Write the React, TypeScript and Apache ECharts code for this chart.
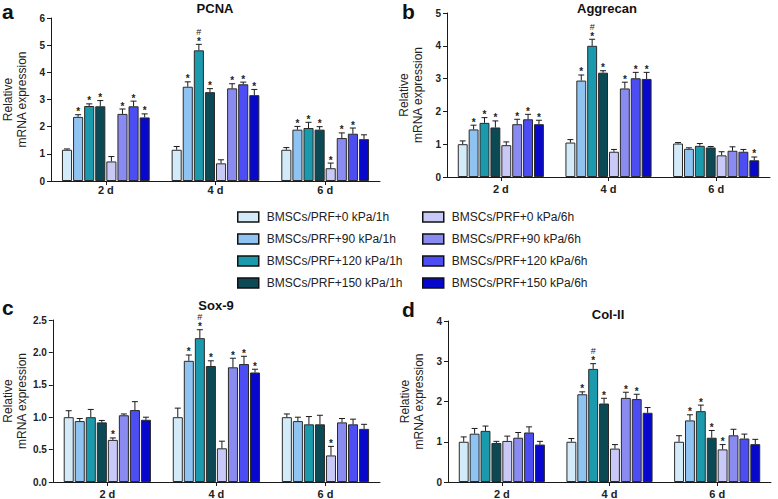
import React, { useEffect, useRef } from 'react';
import * as echarts from 'echarts';

const FONT = '"Liberation Sans", Arial, Helvetica, sans-serif';

const categories = ['2 d', '4 d', '6 d'];
const seriesNames = [
  'BMSCs/PRF+0 kPa/1h',
  'BMSCs/PRF+90 kPa/1h',
  'BMSCs/PRF+120 kPa/1h',
  'BMSCs/PRF+150 kPa/1h',
  'BMSCs/PRF+0 kPa/6h',
  'BMSCs/PRF+90 kPa/6h',
  'BMSCs/PRF+120 kPa/6h',
  'BMSCs/PRF+150 kPa/6h',
];
const seriesColors = ['#d3eaf8', '#8fc3f2', '#1b9aae', '#0b4a55', '#c9c9f7', '#8a8bf1', '#4d4df4', '#0808cc'];

// PCNA: rows = days, columns = groups
const pcnaMean = [
  [1.15, 2.36, 2.76, 2.75, 0.72, 2.47, 2.75, 2.34],
  [1.15, 3.47, 4.81, 3.27, 0.65, 3.41, 3.56, 3.16],
  [1.15, 1.89, 1.95, 1.89, 0.47, 1.58, 1.74, 1.54],
];
const pcnaErr = [
  [0.03, 0.08, 0.08, 0.21, 0.18, 0.18, 0.19, 0.13],
  [0.12, 0.18, 0.22, 0.13, 0.13, 0.17, 0.08, 0.21],
  [0.08, 0.12, 0.21, 0.11, 0.19, 0.19, 0.21, 0.16],
];
const pcnaMarks = [
  ['', '*', '*', '*', '', '*', '*', '*'],
  ['', '*', '*#', '*', '', '*', '*', '*'],
  ['', '*', '*', '*', '*', '*', '*', ''],
];

const aggrecanMean = [
  [1.0, 1.45, 1.65, 1.51, 0.97, 1.61, 1.76, 1.61],
  [1.05, 2.94, 4.0, 3.18, 0.77, 2.7, 3.01, 2.99],
  [1.02, 0.86, 0.95, 0.9, 0.66, 0.8, 0.77, 0.51],
];
const aggrecanErr = [
  [0.1, 0.13, 0.16, 0.2, 0.1, 0.15, 0.15, 0.12],
  [0.09, 0.17, 0.2, 0.06, 0.07, 0.19, 0.18, 0.2],
  [0.03, 0.03, 0.07, 0.03, 0.11, 0.12, 0.07, 0.1],
];
const aggrecanMarks = [
  ['', '*', '*', '*', '', '*', '*', '*'],
  ['', '*', '*#', '*', '', '*', '*', '*'],
  ['', '', '', '', '', '', '', '*'],
];

const sox9Mean = [
  [1.0, 0.94, 1.0, 0.92, 0.65, 1.03, 1.11, 0.96],
  [1.0, 1.87, 2.22, 1.79, 0.52, 1.77, 1.82, 1.69],
  [1.0, 0.94, 0.89, 0.89, 0.41, 0.92, 0.89, 0.82],
];
const sox9Err = [
  [0.1, 0.04, 0.12, 0.03, 0.03, 0.02, 0.13, 0.04],
  [0.14, 0.09, 0.13, 0.08, 0.11, 0.14, 0.12, 0.05],
  [0.05, 0.06, 0.12, 0.14, 0.14, 0.06, 0.08, 0.07],
];
const sox9Marks = [
  ['', '', '', '', '*', '', '', ''],
  ['', '*', '*#', '*', '', '*', '*', '*'],
  ['', '', '', '', '*', '', '', ''],
];

const col2Mean = [
  [1.0, 1.2, 1.27, 0.97, 1.02, 1.1, 1.23, 0.93],
  [1.0, 2.18, 2.81, 1.95, 0.83, 2.09, 2.06, 1.72],
  [1.0, 1.53, 1.76, 1.1, 0.81, 1.16, 1.08, 0.94],
];
const col2Err = [
  [0.12, 0.13, 0.12, 0.04, 0.12, 0.13, 0.14, 0.08],
  [0.08, 0.06, 0.13, 0.13, 0.1, 0.14, 0.12, 0.13],
  [0.15, 0.14, 0.15, 0.18, 0.12, 0.15, 0.11, 0.12],
];
const col2Marks = [
  ['', '', '', '', '', '', '', ''],
  ['', '*', '*#', '*', '', '*', '*', ''],
  ['', '*', '*', '*', '*', '', '', ''],
];

const yAxisName = 'Relative\nmRNA expression';

const panels = [
  { letter: 'a', title: 'PCNA', mean: pcnaMean, err: pcnaErr, marks: pcnaMarks, yMax: 6, yInterval: 1, decimals: 0,
    grid: { left: 50, top: 18, width: 330, height: 163 }, titlePos: [215, 8], letterPos: [2, 11.5], labelMargin: 3 },
  { letter: 'b', title: 'Aggrecan', mean: aggrecanMean, err: aggrecanErr, marks: aggrecanMarks, yMax: 5, yInterval: 1, decimals: 0,
    grid: { left: 447, top: 13, width: 323, height: 164 }, titlePos: [607, 8], letterPos: [402, 11.5], labelMargin: 6 },
  { letter: 'c', title: 'Sox-9', mean: sox9Mean, err: sox9Err, marks: sox9Marks, yMax: 2.5, yInterval: 0.5, decimals: 1,
    grid: { left: 50, top: 320, width: 330, height: 164 }, titlePos: [216, 305], letterPos: [2, 307], labelMargin: 6 },
  { letter: 'd', title: 'Col-II', mean: col2Mean, err: col2Err, marks: col2Marks, yMax: 4, yInterval: 1, decimals: 0,
    grid: { left: 448, top: 321, width: 323, height: 163 }, titlePos: [608, 314], letterPos: [402, 309], labelMargin: 6 },
];

const CAT_GAP = 0.2;
const BAR_GAP = 0.1;

function buildOption() {
  const n = seriesNames.length;
  const series: any[] = [];
  panels.forEach((p, pi) => {
    seriesNames.forEach((name, si) => {
      series.push({
        type: 'bar',
        name,
        xAxisIndex: pi,
        yAxisIndex: pi,
        data: categories.map((_, ci) => p.mean[ci][si]),
        barCategoryGap: CAT_GAP * 100 + '%',
        barGap: BAR_GAP * 100 + '%',
        itemStyle: { color: seriesColors[si], borderColor: '#2a2a2a', borderWidth: 1 },
        emphasis: { disabled: true },
      });
    });
    const errData: number[][] = [];
    categories.forEach((_, ci) => {
      seriesNames.forEach((__, si) => {
        errData.push([ci, si, p.mean[ci][si], p.err[ci][si]]);
      });
    });
    series.push({
      type: 'custom',
      xAxisIndex: pi,
      yAxisIndex: pi,
      z: 5,
      silent: true,
      clip: false,
      encode: { x: 0, y: 2 },
      data: errData,
      renderItem: (params: any, api: any) => {
        const ci = api.value(0);
        const si = api.value(1);
        const mean = api.value(2);
        const err = api.value(3);
        const band = api.size([1, 0])[0];
        const groupW = band * (1 - CAT_GAP);
        const bw = groupW / (n + (n - 1) * BAR_GAP);
        const offset = -groupW / 2 + bw / 2 + si * bw * (1 + BAR_GAP);
        const base = api.coord([ci, mean]);
        const top = api.coord([ci, mean + err]);
        const x = base[0] + offset;
        const capHalf = bw * 0.3;
        const children: any[] = [
          { type: 'line', shape: { x1: x, y1: base[1], x2: x, y2: top[1] }, style: { stroke: '#1a1a1a', lineWidth: 1 } },
          { type: 'line', shape: { x1: x - capHalf, y1: top[1], x2: x + capHalf, y2: top[1] }, style: { stroke: '#1a1a1a', lineWidth: 1 } },
        ];
        const mark = p.marks[ci][si];
        if (mark.indexOf('*') >= 0) {
          children.push({
            type: 'text', x, y: top[1] - 3,
            style: { text: '*', textAlign: 'center', textVerticalAlign: 'middle', font: 'bold 10px ' + FONT, lineHeight: 9, fill: '#222' },
          });
        }
        if (mark.indexOf('#') >= 0) {
          children.push({
            type: 'text', x, y: top[1] - 12.5,
            style: { text: '#', textAlign: 'center', textVerticalAlign: 'middle', font: '9px ' + FONT, lineHeight: 9, fill: '#222' },
          });
        }
        return { type: 'group', children };
      },
    });
  });

  const graphic: any[] = [];
  panels.forEach((p) => {
    graphic.push({
      type: 'text', x: p.letterPos[0], y: p.letterPos[1],
      style: { text: p.letter, font: 'bold 21px ' + FONT, fill: '#111', textAlign: 'left', textVerticalAlign: 'middle' },
    });
    graphic.push({
      type: 'text', x: p.titlePos[0], y: p.titlePos[1],
      style: { text: p.title, font: 'bold 13px ' + FONT, fill: '#111', textAlign: 'center', textVerticalAlign: 'middle' },
    });
  });

  const legendBase = {
    orient: 'vertical',
    itemWidth: 21,
    itemHeight: 10,
    itemGap: 10,
    icon: 'rect',
    selectedMode: false,
    itemStyle: { borderColor: '#111', borderWidth: 1.5 },
    textStyle: { fontFamily: FONT, fontSize: 12, color: '#222', padding: [0, 0, 0, 3] },
  };

  return {
    animation: false,
    backgroundColor: '#ffffff',
    textStyle: { fontFamily: FONT },
    grid: panels.map((p) => ({ ...p.grid })),
    xAxis: panels.map((p, pi) => ({
      type: 'category',
      gridIndex: pi,
      data: categories,
      axisLine: { show: true, lineStyle: { color: '#1a1a1a', width: 1 } },
      axisTick: { show: true, alignWithLabel: true, length: 4, lineStyle: { color: '#1a1a1a' } },
      axisLabel: { fontFamily: FONT, fontWeight: 'bold', fontSize: 11, color: '#222', margin: p.labelMargin },
    })),
    yAxis: panels.map((p, pi) => ({
      type: 'value',
      gridIndex: pi,
      min: 0,
      max: p.yMax,
      interval: p.yInterval,
      name: yAxisName,
      nameLocation: 'middle',
      nameRotate: 90,
      nameGap: 22,
      nameTextStyle: { fontFamily: FONT, fontSize: 12, color: '#222', lineHeight: 14 },
      axisLine: { show: true, lineStyle: { color: '#1a1a1a', width: 1 } },
      axisTick: { show: true, length: 4, lineStyle: { color: '#1a1a1a' } },
      splitLine: { show: false },
      axisLabel: {
        fontFamily: FONT, fontWeight: 'bold', fontSize: 10, color: '#222', margin: 6,
        formatter: (v: number) => v.toFixed(p.decimals),
      },
    })),
    legend: [
      { ...legendBase, left: 232, top: 206, data: seriesNames.slice(0, 4) },
      { ...legendBase, left: 417, top: 206, data: seriesNames.slice(4, 8) },
    ],
    graphic,
    series,
  };
}

export default function App() {
  const ref = useRef<HTMLDivElement>(null);
  useEffect(() => {
    if (!ref.current) return;
    const chart = echarts.init(ref.current, null, { renderer: 'svg' });
    chart.setOption(buildOption() as any);
    return () => chart.dispose();
  }, []);
  return (
    <div
      ref={ref}
      style={{ position: 'absolute', left: 0, top: 0, width: 778, height: 499, background: '#fff' }}
    />
  );
}
